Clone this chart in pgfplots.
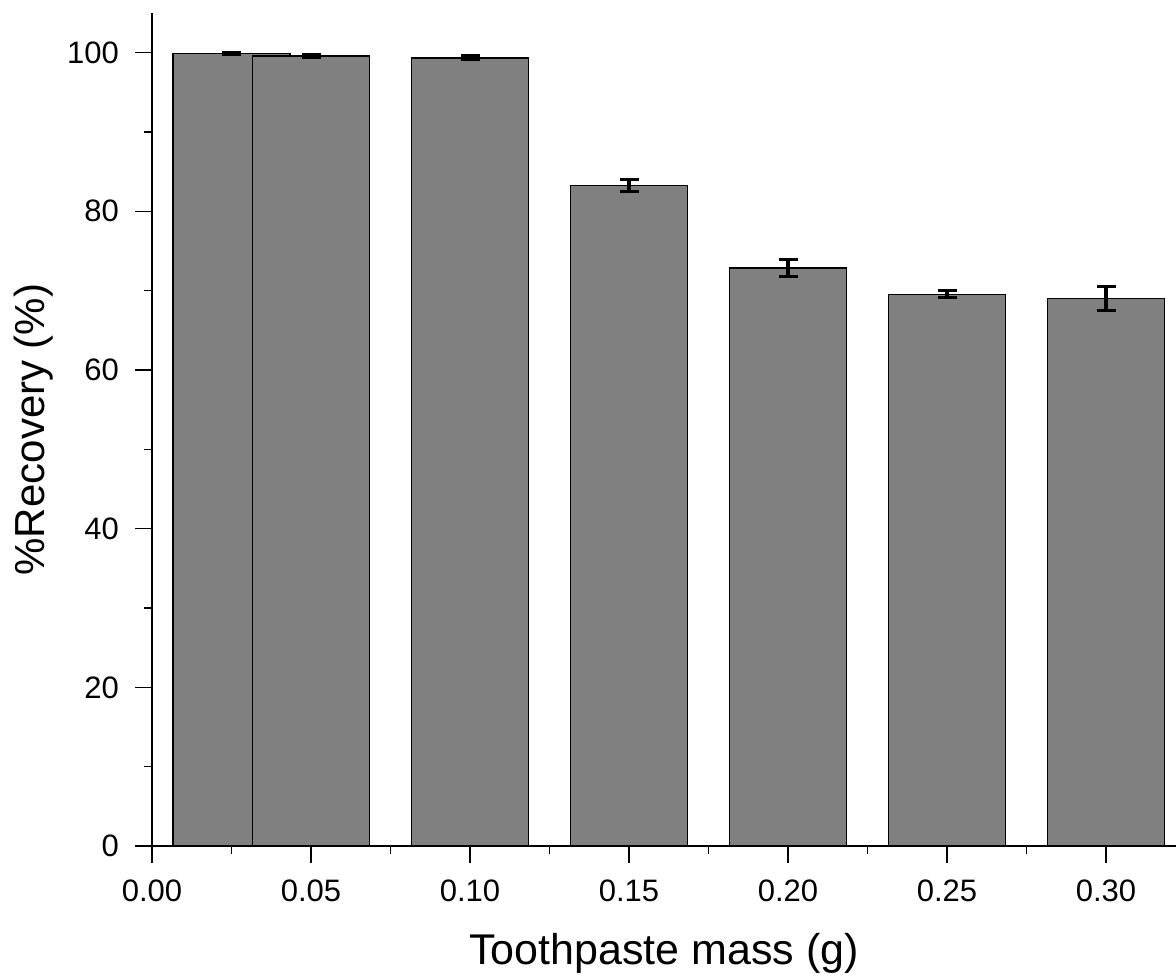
\documentclass[border=0pt]{standalone}
\usepackage{pgfplots}
\pgfplotsset{compat=1.18}
\usepackage{fontspec}
\setmainfont{Liberation Sans}
\pgfplotsset{mybar/.style={ybar, bar width=0.0368, bar shift=0pt,
    fill={rgb,255:red,128;green,128;blue,128}, draw=black, line width=0.75pt,
    error bars/y dir=both, error bars/y explicit,
    error bars/error bar style={line width=1.6pt, black},
    error bars/error mark options={rotate=90, mark size=4.75pt, line width=1.6pt, black}}}
\begin{document}
\begin{tikzpicture}
\begin{axis}[
  scale only axis,
  width=512pt, height=416.5pt,
  xmin=0, xmax=0.322,
  ymin=0, ymax=105,
  axis x line*=bottom, axis y line*=left,
  axis line style={-, line width=0.75pt},
  xtick={0,0.05,0.10,0.15,0.20,0.25,0.30},
  ytick={0,20,40,60,80,100},
  minor x tick num=1, minor y tick num=1,
  tick align=outside,
  major tick length=8.5pt, minor tick length=4pt,
  every tick/.style={black, line width=0.75pt},
  /pgf/number format/assume math mode=true,
  xticklabel style={/pgf/number format/.cd, fixed, fixed zerofill, precision=2, /tikz/.cd, font=\fontsize{15.5}{18}\selectfont, yshift=-5pt},
  yticklabel style={font=\fontsize{15.5}{18}\selectfont, xshift=-4.5pt},
  xlabel={Toothpaste mass (g)},
  ylabel={\%Recovery (\%)},
  xlabel style={font=\fontsize{21.5}{24}\selectfont, yshift=-9pt},
  ylabel style={font=\fontsize{21}{24}\selectfont, yshift=0pt},
  clip=false,
]
\coordinate (ll) at (rel axis cs:0,0);
\coordinate (ur) at (rel axis cs:1,1);
\addplot[mybar] coordinates {(0.025,99.87) +- (0,0.15)};
\addplot[mybar] coordinates {(0.05,99.6) +- (0,0.15)};
\addplot[mybar] coordinates {(0.10,99.35) +- (0,0.25)};
\addplot[mybar] coordinates {(0.15,83.27) +- (0,0.76)};
\addplot[mybar] coordinates {(0.20,72.85) +- (0,1.09)};
\addplot[mybar] coordinates {(0.25,69.54) +- (0,0.45)};
\addplot[mybar] coordinates {(0.30,69.0) +- (0,1.55)};
\end{axis}
\pgfresetboundingbox
\path ([xshift=-76pt,yshift=-63.5pt]ll) rectangle ([yshift=6.5pt]ur);
\end{tikzpicture}
\end{document}
